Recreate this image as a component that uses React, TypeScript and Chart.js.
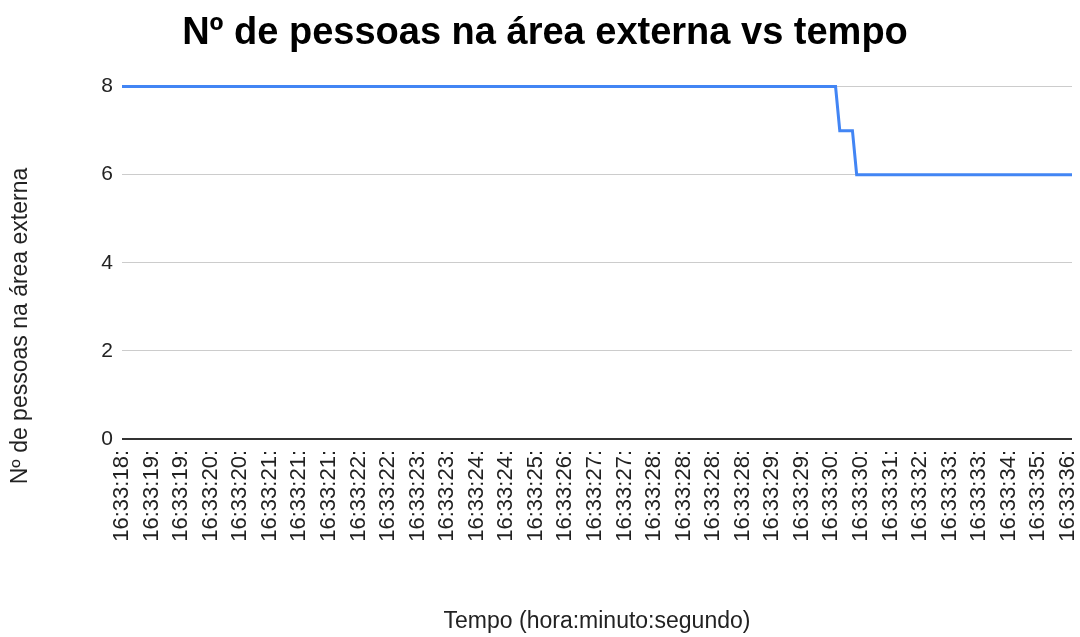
import React, { useEffect, useRef } from "react";
import { Chart, registerables } from "chart.js";

Chart.register(...registerables);

const chartTitle = "Nº de pessoas na área externa vs tempo";
const xAxisTitle = "Tempo (hora:minuto:segundo)";
const yAxisTitle = "Nº de pessoas na área externa";

// Labels shown on the x axis (one every few samples)
const tickLabels = [
  "16:33:18:", "16:33:19:", "16:33:19:", "16:33:20:", "16:33:20:",
  "16:33:21:", "16:33:21:", "16:33:21:", "16:33:22:", "16:33:22:",
  "16:33:23:", "16:33:23:", "16:33:24:", "16:33:24:", "16:33:25:",
  "16:33:26:", "16:33:27:", "16:33:27:", "16:33:28:", "16:33:28:",
  "16:33:28:", "16:33:28:", "16:33:29:", "16:33:29:", "16:33:30:",
  "16:33:30:", "16:33:31:", "16:33:32:", "16:33:33:", "16:33:33:",
  "16:33:34:", "16:33:35:", "16:33:36:",
];
const samplesPerLabel = 7;

// Series: [value, number of samples]
const valueRuns: [number, number][] = [
  [8, 170],
  [7, 4],
  [6, 52],
];

const yMin = 0;
const yMax = 8;
const yStep = 2;

const FONT = '"Liberation Sans", Arial, sans-serif';

export default function App() {
  const canvasRef = useRef<HTMLCanvasElement | null>(null);

  useEffect(() => {
    document.body.style.margin = "0";
    const values: number[] = [];
    valueRuns.forEach(([v, n]) => {
      for (let k = 0; k < n; k++) values.push(v);
    });
    const categories = values.map(
      (_, i) => tickLabels[Math.min(Math.floor(i / samplesPerLabel), tickLabels.length - 1)]
    );

    const yTitlePlugin = {
      id: "yTitleCustom",
      afterDraw(chart: any) {
        const ctx = chart.ctx;
        ctx.save();
        ctx.translate(21, 326);
        ctx.rotate(-Math.PI / 2);
        ctx.font = `23px ${FONT}`;
        ctx.fillStyle = "#222222";
        ctx.textAlign = "center";
        ctx.textBaseline = "middle";
        ctx.fillText(yAxisTitle, 0, 0);
        ctx.restore();
      },
    };

    const chart = new Chart(canvasRef.current as HTMLCanvasElement, {
      type: "line",
      data: {
        labels: categories,
        datasets: [
          {
            data: values,
            borderColor: "#4285F4",
            borderWidth: 3,
            pointRadius: 0,
            pointHoverRadius: 0,
            tension: 0,
            fill: false,
            clip: false,
          },
        ],
      },
      plugins: [yTitlePlugin],
      options: {
        animation: false,
        responsive: false,
        devicePixelRatio: 1,
        layout: { padding: { left: 18, right: 8, top: 0, bottom: 0 } },
        plugins: {
          legend: { display: false },
          tooltip: { enabled: false },
          title: {
            display: true,
            text: chartTitle,
            color: "#000000",
            font: { family: FONT, size: 38, weight: "bold" },
            padding: { top: 11, bottom: 30 },
          },
        },
        scales: {
          x: {
            type: "category",
            grid: { display: false, drawTicks: false },
            border: { display: false },
            ticks: {
              autoSkip: false,
              minRotation: 90,
              maxRotation: 90,
              padding: 11,
              color: "#222222",
              font: { family: FONT, size: 22 },
              callback: function (this: any, value: any, index: number) {
                return index % samplesPerLabel === 0 ? this.getLabelForValue(value) : "";
              },
            },
            title: {
              display: true,
              text: xAxisTitle,
              color: "#222222",
              font: { family: FONT, size: 23 },
              padding: { top: 0, bottom: 2 },
            },
            afterFit(scale: any) {
              scale.height = 198;
              scale.paddingLeft = 0;
              scale.paddingRight = 0;
            },
          },
          y: {
            min: yMin,
            max: yMax,
            grid: {
              drawTicks: false,
              color: (ctx: any) => (ctx.tick && ctx.tick.value === 0 ? "#333333" : "#cccccc"),
              lineWidth: (ctx: any) => (ctx.tick && ctx.tick.value === 0 ? 2 : 1),
            },
            border: { display: false },
            ticks: {
              stepSize: yStep,
              padding: 9,
              color: "#222222",
              font: { family: FONT, size: 21 },
            },
            afterFit(scale: any) {
              scale.width = 104;
            },
          },
        },
      },
    });
    return () => chart.destroy();
  }, []);

  return (
    <div style={{ width: 1080, height: 637, background: "#ffffff" }}>
      <canvas ref={canvasRef} width={1080} height={637} />
    </div>
  );
}
